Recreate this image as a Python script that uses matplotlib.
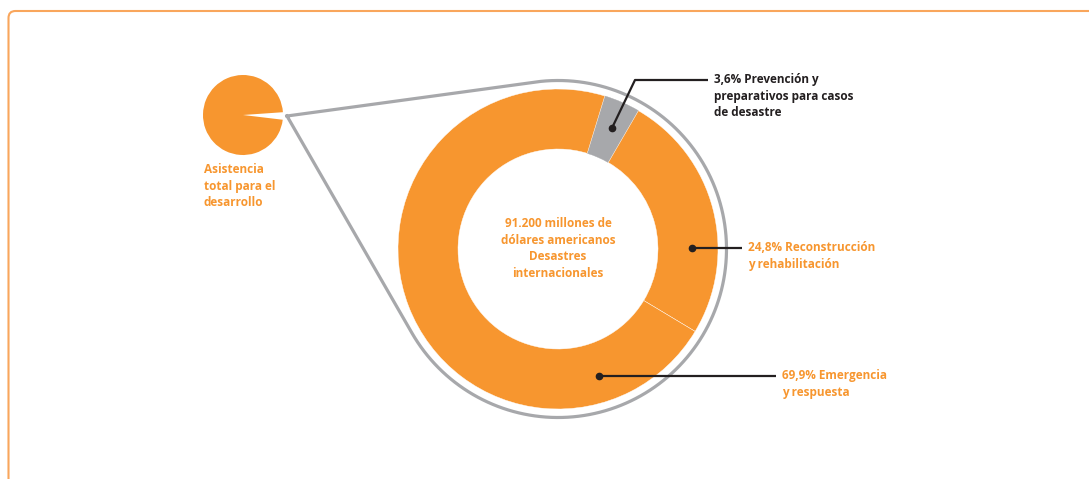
import numpy as np
import matplotlib
matplotlib.use("Agg")
import matplotlib.pyplot as plt
from matplotlib.patches import FancyBboxPatch

# ---- data ----
segment_labels = ["3,6% Prevención y\npreparativos para casos\nde desastre",
                  "24,8% Reconstrucción\ny rehabilitación",
                  "69,9% Emergencia\ny respuesta"]
segment_values = [3.6, 24.8, 69.9]
total_aid_share = [3.0, 97.0]   # disasters share (white) vs rest of development aid (estimated)
center_text = "91.200 millones de\ndólares americanos\nDesastres\ninternacionales"
total_label = "Asistencia\ntotal para el\ndesarrollo"

ORANGE = "#F7962F"
GRAY = "#A7A8AB"
DARK = "#231F20"
FONT = ["Open Sans", "DejaVu Sans"]

W, H = 1089, 479
fig = plt.figure(figsize=(W / 100, H / 100), dpi=100)
ax = fig.add_axes([0, 0, 1, 1])

def Y(y):
    return H - y

# main donut
C = np.array([558.0, Y(249)])
R_out, R_in = 160.0, 100.0
wedges, _ = ax.pie(segment_values, center=tuple(C), radius=R_out, startangle=73,
                   counterclock=False, colors=[GRAY, ORANGE, ORANGE],
                   wedgeprops=dict(width=R_out - R_in, edgecolor="white", linewidth=0.3))
wedges[0].set_edgecolor(GRAY)

# small pie
Pc = (243.0, Y(115))
ax.pie(total_aid_share, center=Pc, radius=40, startangle=4, counterclock=False,
       colors=["white", ORANGE], wedgeprops=dict(linewidth=0))

# magnifier outline
P = np.array([287.0, Y(116)])
R_ring = 168.5
d_vec = C - P
d = np.hypot(*d_vec)
base = np.arctan2(d_vec[1], d_vec[0])
off = np.arcsin(R_ring / d)
L = np.sqrt(d ** 2 - R_ring ** 2)
T1 = P + L * np.array([np.cos(base + off), np.sin(base + off)])  # upper tangent
T2 = P + L * np.array([np.cos(base - off), np.sin(base - off)])  # lower tangent
a1 = np.arctan2(*(T1 - C)[::-1])
a2 = np.arctan2(*(T2 - C)[::-1])
if a2 > a1:
    a2 -= 2 * np.pi
th = np.linspace(a1, a2, 400)
xs = np.concatenate([[P[0]], C[0] + R_ring * np.cos(th), [P[0]]])
ys = np.concatenate([[P[1]], C[1] + R_ring * np.sin(th), [P[1]]])
ax.plot(xs, ys, color=GRAY, lw=2.3, solid_joinstyle="miter", zorder=1)

# leader lines
def leader(pts, color=DARK):
    pts = np.array(pts, dtype=float)
    ax.plot(pts[:, 0], Y(pts[:, 1]), color=color, lw=1.6, zorder=5, solid_capstyle="butt")
    ax.plot(pts[0, 0], Y(pts[0, 1]), "o", color=color, ms=4.5, zorder=6)

leader([(612, 128), (635, 80), (708, 80)])
leader([(692, 248), (742, 248)])
leader([(599, 376), (776, 376)])

FS = 8.45
LS = 1.36
tkw = dict(fontsize=FS, fontweight="bold", family=FONT, linespacing=LS, va="top", ha="left")
ax.text(714, Y(73), segment_labels[0], color=DARK, **tkw)
ax.text(748, Y(241), segment_labels[1], color=ORANGE, **tkw)
ax.text(782, Y(369), segment_labels[2], color=ORANGE, **tkw)
ax.text(204, Y(163), total_label, color=ORANGE, **tkw)
ax.text(C[0], Y(217), center_text, color=ORANGE, fontsize=FS, fontweight="bold",
        family=FONT, linespacing=LS, va="top", ha="center")

# frame
frame = FancyBboxPatch((8.5, -30), 1200, Y(11) + 30, boxstyle="round,pad=0,rounding_size=7",
                       fill=False, edgecolor="#F9A65C", lw=1.5, clip_on=True)
ax.add_patch(frame)

ax.set_xlim(0, W)
ax.set_ylim(0, H)
ax.set_aspect("auto")
ax.axis("off")
fig.savefig("out.png", dpi=100)
